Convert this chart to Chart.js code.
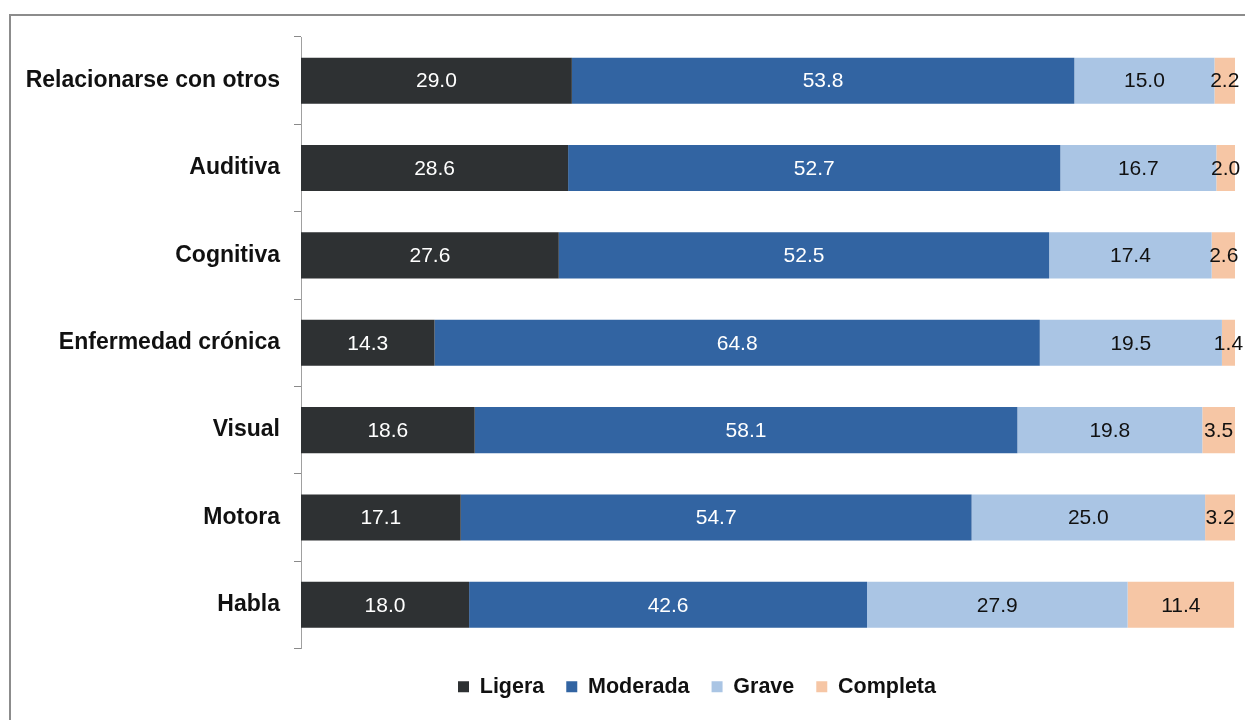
<!DOCTYPE html>
<html lang="es">
<head>
    <meta charset="UTF-8">
    <meta name="viewport" content="width=device-width, initial-scale=1.0">
    <title>Grado de dificultad por tipo de discapacidad</title>
    <style>
        html, body {
            margin: 0;
            padding: 0;
            background: #fff;
            overflow: hidden;
        }
        #marco {
            position: absolute;
            left: 9px;
            top: 14px;
            width: 1300px;
            height: 800px;
            border: 2px solid #8c8c8c;
        }
        #graficoDiv {
            position: absolute;
            left: 0;
            top: 0;
            width: 1245px;
            height: 720px;
        }
    </style>
</head>
<body>
    <div id="marco"></div>
    <div id="graficoDiv">
        <canvas id="grafico"></canvas>
    </div>

    <script src="https://cdn.jsdelivr.net/npm/chart.js@4.4.0/dist/chart.umd.min.js"></script>
    <script>

    const categorias = ["Relacionarse con otros", "Auditiva", "Cognitiva", "Enfermedad crónica", "Visual", "Motora", "Habla"];
    const ligera   = [29.0, 28.6, 27.6, 14.3, 18.6, 17.1, 18.0];
    const moderada = [53.8, 52.7, 52.5, 64.8, 58.1, 54.7, 42.6];
    const grave    = [15.0, 16.7, 17.4, 19.5, 19.8, 25.0, 27.9];
    const completa = [2.2, 2.0, 2.6, 1.4, 3.5, 3.2, 11.4];

    const fuente = '"Liberation Sans", Arial, sans-serif';

    // numeros dentro de cada segmento
    const etiquetasValor = {
        id: "etiquetasValor",
        afterDatasetsDraw(chart) {
            const ctx = chart.ctx;
            ctx.save();
            ctx.font = '21px "Liberation Sans Narrow", ' + fuente;
            ctx.textAlign = "center";
            ctx.textBaseline = "middle";
            chart.data.datasets.forEach((ds, i) => {
                const meta = chart.getDatasetMeta(i);
                meta.data.forEach((barra, j) => {
                    ctx.fillStyle = ds.colorTexto;
                    ctx.fillText(ds.data[j].toFixed(1), (barra.x + barra.base) / 2, barra.y + 1);
                });
            });
            ctx.restore();
        }
    };

    // la leyenda del original no esta centrada sobre el grafico
    const moverLeyenda = {
        id: "moverLeyenda",
        afterLayout(chart) {
            const ley = chart.legend;
            const ancho = ley.right - ley.left;
            const alto = ley.bottom - ley.top;
            ley.left = 436;
            ley.right = 436 + ancho;
            ley.top = 654;
            ley.bottom = 654 + alto;
        }
    };

    const ctx = document.getElementById("grafico").getContext("2d");

    new Chart(ctx, {
        type: "bar",
        data: {
            labels: categorias,
            datasets: [
                { label: "Ligera", data: ligera, backgroundColor: "rgb(46, 49, 51)", colorTexto: "#ffffff" },
                { label: "Moderada", data: moderada, backgroundColor: "rgb(50, 100, 162)", colorTexto: "#ffffff" },
                { label: "Grave", data: grave, backgroundColor: "rgb(170, 197, 228)", colorTexto: "#111111" },
                { label: "Completa", data: completa, backgroundColor: "rgb(246, 198, 165)", colorTexto: "#111111" }
            ]
        },
        options: {
            indexAxis: "y",
            responsive: true,
            maintainAspectRatio: false,
            animation: false,
            datasets: {
                bar: {
                    borderWidth: 0,
                    barPercentage: 0.527,
                    categoryPercentage: 1
                }
            },
            layout: {
                padding: { top: 37, right: 10, bottom: 0, left: 0 }
            },
            scales: {
                x: {
                    stacked: true,
                    min: 0,
                    max: 100,
                    grid: { display: false },
                    border: { display: false },
                    ticks: { display: false },
                    afterFit(scale) { scale.height = 18; }
                },
                y: {
                    stacked: true,
                    grid: {
                        drawOnChartArea: false,
                        drawTicks: true,
                        tickLength: 7,
                        offset: true,
                        color: "#8a8a8a"
                    },
                    border: { display: true, color: "#a0a0a0", width: 1 },
                    ticks: {
                        color: "#111111",
                        padding: 14,
                        font: { family: fuente, size: 23, weight: "bold" }
                    },
                    afterFit(scale) { scale.width = 301; }
                }
            },
            plugins: {
                legend: {
                    position: "bottom",
                    align: "start",
                    labels: {
                        boxWidth: 11,
                        boxHeight: 11,
                        padding: 22,
                        color: "#111111",
                        font: { family: fuente, size: 21.5, weight: "bold" }
                    }
                },
                tooltip: { enabled: false }
            }
        },
        plugins: [etiquetasValor, moverLeyenda]
    });

    </script>
</body>
</html>
